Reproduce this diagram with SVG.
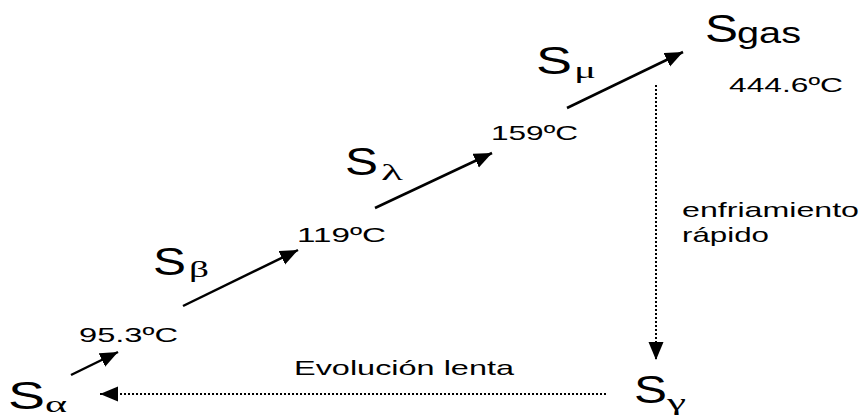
<svg xmlns="http://www.w3.org/2000/svg" width="862" height="416" viewBox="0 0 862 416">
<defs>
<style>
.S{font-family:"Liberation Sans",Arial,sans-serif;font-size:38px;fill:#000}
.sub{font-family:"Liberation Serif","Times New Roman",serif;font-size:24px;fill:#000}
.subs{font-family:"Liberation Sans",Arial,sans-serif;font-size:29px;fill:#000}
.lbl{font-family:"Liberation Sans",Arial,sans-serif;font-size:21px;fill:#000}
.solid{stroke:#000;stroke-width:2.5;fill:none}
.dot{stroke:#000;stroke-width:2;stroke-dasharray:2 2;fill:none}
</style>
<marker id="ah" markerUnits="userSpaceOnUse" markerWidth="20" markerHeight="16" refX="18" refY="7.5" orient="auto">
<path d="M0,0 L18,7.5 L0,15 z" fill="#000"/>
</marker>
</defs>
<rect width="862" height="416" fill="#fff"/>
<g id="connectors">
<line class="solid" x1="71" y1="375" x2="118" y2="352" marker-end="url(#ah)"/>
<line class="solid" x1="183" y1="306" x2="298" y2="250" marker-end="url(#ah)"/>
<line class="solid" x1="375" y1="208" x2="492" y2="153" marker-end="url(#ah)"/>
<line class="solid" x1="567" y1="108" x2="683" y2="52" marker-end="url(#ah)"/>
<line class="dot" x1="656" y1="85" x2="656" y2="360" marker-end="url(#ah)"/>
<line class="dot" x1="606" y1="394" x2="100" y2="394" marker-end="url(#ah)"/>
</g>
<g id="S_alpha">
<text class="S" x="8" y="409" textLength="37" lengthAdjust="spacingAndGlyphs">S</text>
<text class="sub" x="45" y="412" textLength="22" lengthAdjust="spacingAndGlyphs">α</text>
</g>
<g id="S_beta">
<text class="S" x="153" y="275" textLength="33" lengthAdjust="spacingAndGlyphs">S</text>
<text class="sub" x="189" y="277" textLength="20" lengthAdjust="spacingAndGlyphs">β</text>
</g>
<g id="S_lambda">
<text class="S" x="345" y="175" textLength="33" lengthAdjust="spacingAndGlyphs">S</text>
<text class="sub" x="381" y="180" textLength="22" lengthAdjust="spacingAndGlyphs">λ</text>
</g>
<g id="S_mu">
<text class="S" x="536" y="74" textLength="36" lengthAdjust="spacingAndGlyphs">S</text>
<text class="sub" x="574" y="78" textLength="22" lengthAdjust="spacingAndGlyphs">μ</text>
</g>
<g id="S_gas">
<text class="S" x="705" y="42" textLength="33" lengthAdjust="spacingAndGlyphs">S</text>
<text class="subs" x="737" y="43" textLength="64" lengthAdjust="spacingAndGlyphs">gas</text>
</g>
<g id="S_gamma">
<text class="S" x="634" y="403" textLength="33" lengthAdjust="spacingAndGlyphs">S</text>
<text class="sub" x="667" y="410" textLength="19" lengthAdjust="spacingAndGlyphs">γ</text>
</g>
<g id="T_95">
<text class="lbl" x="79" y="342" textLength="99" lengthAdjust="spacingAndGlyphs">95.3ºC</text>
</g>
<g id="T_119">
<text class="lbl" x="297" y="242" textLength="89" lengthAdjust="spacingAndGlyphs">119ºC</text>
</g>
<g id="T_159">
<text class="lbl" x="491" y="140" textLength="87" lengthAdjust="spacingAndGlyphs">159ºC</text>
</g>
<g id="T_444">
<text class="lbl" x="729" y="92" textLength="114" lengthAdjust="spacingAndGlyphs">444.6ºC</text>
</g>
<g id="L_enfriamiento">
<text class="lbl" x="682" y="217" textLength="177" lengthAdjust="spacingAndGlyphs">enfriamiento</text>
<text class="lbl" x="682" y="242" textLength="87" lengthAdjust="spacingAndGlyphs">rápido</text>
</g>
<g id="L_evolucion">
<text class="lbl" x="294" y="375" textLength="220" lengthAdjust="spacingAndGlyphs">Evolución lenta</text>
</g>
</svg>
